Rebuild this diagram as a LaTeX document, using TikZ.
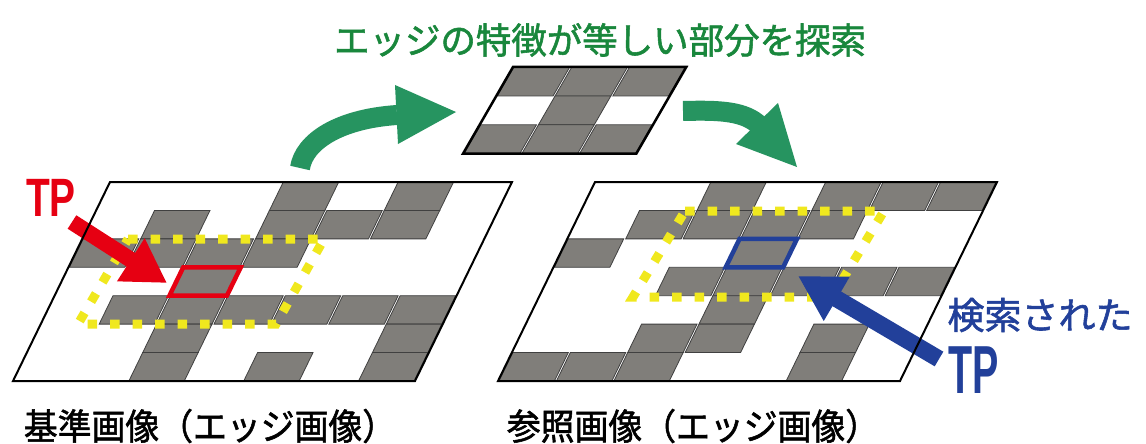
\documentclass[tikz,border=0pt]{standalone}
\usepackage{fontspec}
\newfontfamily\jpfont{Noto Sans CJK JP}[FakeBold=1.5]
\newfontfamily\latfont{Liberation Sans}
\usetikzlibrary{arrows.meta}
\definecolor{cellgray}{HTML}{807E7A}
\definecolor{tpred}{HTML}{E60012}
\definecolor{tpblue}{HTML}{22409A}
\definecolor{arrgreen}{HTML}{269460}
\definecolor{titlegreen}{HTML}{19873C}
\definecolor{dotyellow}{HTML}{F0E81E}
\tikzset{
  cellbox/.style={fill=cellgray, draw=black!75, line width=0.8pt},
  gridframe/.style={draw=black, line width=2pt, line join=miter},
  searchbox/.style={draw=dotyellow, line width=9pt, dash pattern=on 9.5pt off 13pt},
  redmark/.style={draw=tpred, line width=4.5pt},
  bluemark/.style={draw=tpblue, line width=4.5pt},
  redarrow/.style={draw=tpred, line width=16pt, -{Triangle[width=48pt,length=43pt]}},
  bluearrow/.style={draw=tpblue, line width=17pt, -{Triangle[width=48pt,length=45pt]}},
  greenshaft/.style={draw=arrgreen, line width=20pt},
  greenhead/.style={fill=arrgreen},
  jplabel/.style={font=\jpfont\fontsize{36}{40}\selectfont, inner sep=0pt},
  tplabel/.style={inner sep=0pt},
}
\newcommand\mygridcells[3]{%
  \foreach \colidx/\rowidx in {#3}{%
    \path[cellbox] ({\colidx*#1+1},{\rowidx*#2}) -- ({(\colidx+1)*#1-1},{\rowidx*#2})
      -- ({(\colidx+1)*#1-1},{(\rowidx+1)*#2}) -- ({\colidx*#1+1},{(\rowidx+1)*#2}) -- cycle;
  }}
\begin{document}
\begin{tikzpicture}[x=1pt,y=-1pt]
\fill[white] (0,0) rectangle (1146,444);
\useasboundingbox (0,0) rectangle (1146,444);

% ---- left grid (reference image)
\begin{scope}[shift={(110,182)}, xslant=0.4874]
  \mygridcells{57.4286}{28.4286}{3/0,5/0, 1/1,3/1,4/1,5/1, 0/2,1/2,2/2,3/2, 2/3,
    1/4,2/4,3/4,4/4,5/4,6/4, 2/5,6/5, 2/6,4/6,6/6}
\end{scope}
% ---- right grid (search image)
\begin{scope}[shift={(595,182)}, xslant=0.4874]
  \mygridcells{57.4286}{28.4286}{2/0,4/0,5/0,6/0, 1/1,2/1,3/1,4/1, 0/2,3/2,
    2/3,3/3,4/3,5/3,6/3, 3/4, 2/5,3/5,5/5, 0/6,1/6,2/6,5/6}
\end{scope}
% ---- top template
\begin{scope}[shift={(513,67)}, xslant=0.5767]
  \mygridcells{57.78}{28.9}{0/0,1/0,2/0, 1/1, 0/2,1/2,2/2}
  \draw[gridframe, line width=2.5pt] (0,0) -- (173.3,0) -- (173.3,86.7) -- (0,86.7) -- cycle;
\end{scope}

% ---- yellow search windows
\draw[searchbox] (128,239) -- (324,239) -- (276,324) -- (78,324) -- cycle;
\draw[searchbox] (685,211) -- (884,211) -- (832,297) -- (633,297) -- cycle;

% ---- marked cells
\begin{scope}[shift={(110,182)}, xslant=0.4874]
  \draw[redmark] (114.857,85.286) -- (172.286,85.286) -- (172.286,113.714) -- (114.857,113.714) -- cycle;
\end{scope}
\begin{scope}[shift={(595,182)}, xslant=0.4874]
  \draw[bluemark] (172.286,56.857) -- (229.714,56.857) -- (229.714,85.286) -- (172.286,85.286) -- cycle;
\end{scope}

% ---- arrows
\coordinate (rtail) at (72,222);
\coordinate (rtip) at (167,283);
\draw[redarrow] (rtail) -- (rtip);
\coordinate (btail) at (939,359);
\coordinate (btip) at (798,276);
\draw[bluearrow] (btail) -- (btip);

\coordinate (g1s) at (300,168);
\coordinate (g1e) at (397,115);
\draw[greenshaft] (g1s) .. controls (304,142) and (338,119) .. (g1e);
\fill[greenhead] (395,85) -- (456,112) -- (398,144) -- cycle;
\coordinate (g2s) at (683,111);
\coordinate (g2e) at (760,126);
\draw[greenshaft] (g2s) .. controls (720,110) and (745,111) .. (g2e);
\fill[greenhead] (778,103) -- (797,167) -- (736,144) -- cycle;

% ---- frames on top
\begin{scope}[shift={(110,182)}, xslant=0.4874]
  \draw[gridframe] (0,0) -- (402,0) -- (402,199) -- (0,199) -- cycle;
\end{scope}
\begin{scope}[shift={(595,182)}, xslant=0.4874]
  \draw[gridframe] (0,0) -- (402,0) -- (402,199) -- (0,199) -- cycle;
\end{scope}

% ---- texts
\node[jplabel, text=titlegreen, xscale=0.985] (title) at (600,40) {エッジの特徴が等しい部分を探索};
\node[jplabel, xscale=0.94] (cap1) at (210,426) {基準画像（エッジ画像）};
\node[jplabel, xscale=0.94] (cap2) at (693,426) {参照画像（エッジ画像）};
\node[tplabel, text=tpred, font={\latfont\fontsize{54}{54}\selectfont\bfseries}, xscale=0.72] (tpleft) at (51,198) {TP};
\node[jplabel, text=tpblue, font=\jpfont\fontsize{37}{40}\selectfont] (found) at (1040,315) {検索された};
\node[tplabel, text=tpblue, font={\latfont\fontsize{68}{68}\selectfont\bfseries}, xscale=0.58] (tpright) at (974,370) {TP};
\end{tikzpicture}
\end{document}
